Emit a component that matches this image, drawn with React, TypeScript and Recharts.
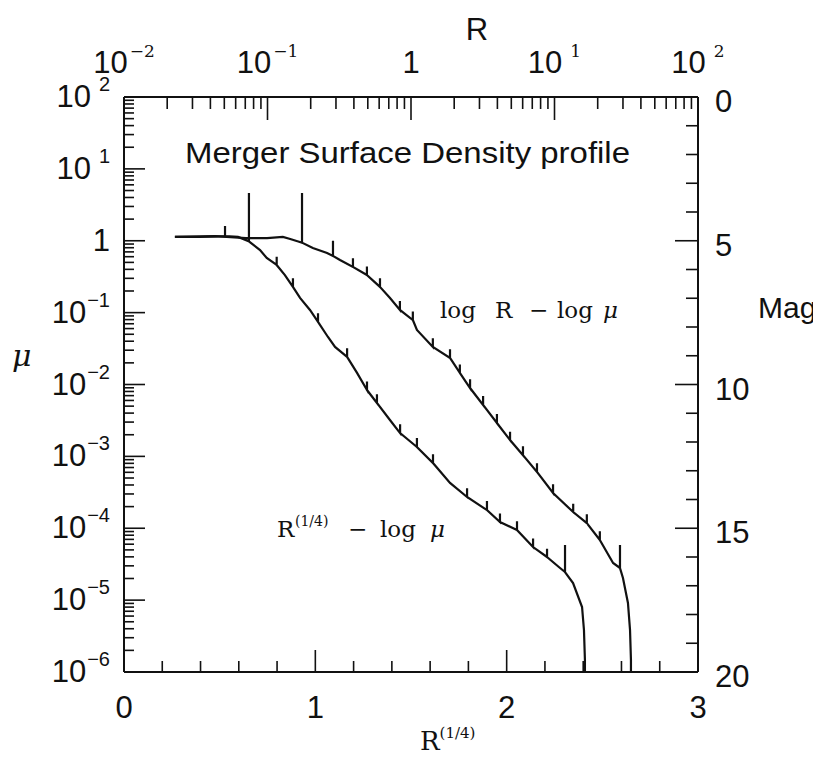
import React from 'react';
import { LineChart, Line, XAxis, YAxis } from 'recharts';

// R^(1/4) - log mu profile (bottom axis, left axis)
const innerR14 = [
  0.267, 0.397, 0.528, 0.528, 0.528, 0.596, 0.638, 0.653, 0.653, 0.653,
  0.711, 0.746, 0.798, 0.798, 0.798, 0.841, 0.883, 0.883, 0.883, 0.920,
  0.972, 1.014, 1.014, 1.014, 1.066, 1.103, 1.166, 1.166, 1.166, 1.218,
  1.270, 1.270, 1.270, 1.322, 1.322, 1.322, 1.390, 1.443, 1.443, 1.443,
  1.531, 1.531, 1.531, 1.615, 1.615, 1.615, 1.704, 1.793, 1.793, 1.793,
  1.897, 1.897, 1.897, 1.965, 1.965, 1.965, 2.054, 2.054, 2.054, 2.138,
  2.138, 2.138, 2.211, 2.211, 2.211, 2.279, 2.305, 2.305, 2.305, 2.347,
  2.394, 2.404, 2.409, 2.409,
];
const innerMu = [
  1.13, 1.13, 1.16, 1.60, 1.16, 1.13, 1.02, 0.98, 4.61, 0.98,
  0.743, 0.575, 0.46, 0.60, 0.46, 0.333, 0.228, 0.30, 0.228, 0.16,
  0.109, 0.0741, 0.098, 0.0741, 0.0458, 0.0333, 0.0242, 0.032, 0.0242, 0.0145,
  0.00838, 0.011, 0.00838, 0.00553, 0.0073, 0.00553, 0.00321, 0.00211, 0.0028, 0.00211,
  0.00135, 0.0018, 0.00135, 8.09e-4, 1.07e-3, 8.09e-4, 4.27e-4, 2.72e-4, 3.6e-4, 2.72e-4,
  1.79e-4, 2.4e-4, 1.79e-4, 1.22e-4, 1.6e-4, 1.22e-4, 9.46e-5, 1.25e-4, 9.46e-5, 5.48e-5,
  7.2e-5, 5.48e-5, 3.98e-5, 5.2e-5, 3.98e-5, 2.8e-5, 2.46e-5, 5.85e-5, 2.46e-5, 1.73e-5,
  8.02e-6, 3.84e-6, 1.47e-6, 1e-6,
];

// log R - log mu profile (top axis, left axis)
const outerR = [
  0.0226, 0.0431, 0.0708, 0.0993, 0.128, 0.144, 0.168, 0.174, 0.174, 0.174,
  0.207, 0.26, 0.286, 0.286, 0.286, 0.32, 0.394, 0.394, 0.394, 0.493,
  0.493, 0.493, 0.608, 0.608, 0.608, 0.714, 0.837, 0.837, 0.837, 1.03,
  1.03, 1.03, 1.1, 1.42, 1.42, 1.42, 1.87, 1.87, 1.87, 2.19,
  2.19, 2.19, 2.58, 2.58, 2.58, 3.18, 3.18, 3.18, 3.97, 3.97,
  3.97, 4.9, 4.9, 4.9, 6.03, 6.03, 6.03, 7.55, 7.55, 7.55,
  9.77, 9.77, 9.77, 13.5, 13.5, 13.5, 16.8, 16.8, 16.8, 20.7,
  20.7, 20.7, 25.6, 28.6, 28.6, 28.6, 30.0, 32.5, 33.6, 34.1,
  34.1,
];
const outerMu = [
  1.13, 1.16, 1.09, 1.09, 1.13, 1.06, 0.962, 0.94, 4.61, 0.94,
  0.79, 0.676, 0.614, 1.0, 0.614, 0.54, 0.432, 0.57, 0.432, 0.333,
  0.44, 0.333, 0.228, 0.30, 0.228, 0.16, 0.109, 0.145, 0.109, 0.0789,
  0.104, 0.0789, 0.0573, 0.0333, 0.044, 0.0333, 0.0234, 0.031, 0.0234, 0.0145,
  0.019, 0.0145, 0.00893, 0.0118, 0.00893, 0.00519, 0.0069, 0.00519, 0.00291, 0.0039,
  0.00291, 0.00169, 0.0022, 0.00169, 0.00104, 0.00138, 0.00104, 6.07e-4, 8.0e-4, 6.07e-4,
  3.09e-4, 4.1e-4, 3.09e-4, 1.68e-4, 2.2e-4, 1.68e-4, 1.18e-4, 1.56e-4, 1.18e-4, 6.87e-5,
  9.1e-5, 6.87e-5, 3.29e-5, 2.8e-5, 5.85e-5, 2.8e-5, 2.03e-5, 9.12e-6, 3.84e-6, 1.47e-6,
  1e-6,
];

const bottomTicks = [0, 0.2, 0.4, 0.6, 0.8, 1, 1.2, 1.4, 1.6, 1.8, 2, 2.2, 2.4, 2.6, 2.8, 3];
const magTicks = [0, 1, 2, 3, 4, 5, 6, 7, 8, 9, 10, 11, 12, 13, 14, 15, 16, 17, 18, 19, 20];
const topDecades = [-2, -1, 0, 1, 2];
const muDecades = [-6, -5, -4, -3, -2, -1, 0, 1, 2];

const logTicks = (decades: number[]) => {
  const out: number[] = [];
  decades.forEach((d, i) => {
    const base = Math.pow(10, d);
    if (i === decades.length - 1) { out.push(base); return; }
    for (let m = 1; m < 10; m++) out.push(m * base);
  });
  return out;
};
const topTicks = logTicks(topDecades);
const muTicks = logTicks(muDecades);

const innerData = innerR14.map((r, i) => ({ r, mu: innerMu[i] }));
const outerData = outerR.map((R, i) => ({ R, mu: outerMu[i] }));

const W = 813;
const H = 749;
const PL = 116, PT = 89, PR = 690, PB = 664;
const SANS = '"Liberation Sans", Arial, Helvetica, sans-serif';
const SERIF = '"DejaVu Serif", "Liberation Serif", serif';
const INK = '#111';

const decadeOf = (v: number) => {
  const k = Math.log10(v);
  const rk = Math.round(k);
  return { k: rk, major: Math.abs(k - rk) < 1e-6 };
};

const BottomTick = (props: any) => {
  const { x, payload } = props;
  const v = payload.value;
  const major = Math.abs(v - Math.round(v)) < 1e-6;
  return (
    <g>
      <line x1={x} x2={x} y1={PB} y2={PB - (major ? 22 : 11)} stroke={INK} strokeWidth={1.6} />
      {major && (
        <text x={x} y={PB + 46} textAnchor="middle" fontFamily={SANS} fontSize={31} fill={INK}>
          {Math.round(v)}
        </text>
      )}
    </g>
  );
};

const TopTick = (props: any) => {
  const { x, payload } = props;
  const { k, major } = decadeOf(payload.value);
  return (
    <g>
      <line x1={x} x2={x} y1={PT} y2={PT + (major ? 23 : 12)} stroke={INK} strokeWidth={1.6} />
      {major && (
        <text x={x} y={PT - 24} textAnchor="middle" fontFamily={SANS} fontSize={31} fill={INK}>
          {k === 0 ? '1' : '10'}
          {k !== 0 && (
            <tspan dy={-16} dx={k > 0 ? 8 : 2} fontFamily={SERIF} fontSize={17}>
              {k < 0 ? `\u2212${-k}` : `${k}`}
            </tspan>
          )}
        </text>
      )}
    </g>
  );
};

const LeftTick = (props: any) => {
  const { y, payload } = props;
  const { k, major } = decadeOf(payload.value);
  return (
    <g>
      <line x1={PL} x2={PL + (major ? 21 : 10)} y1={y} y2={y} stroke={INK} strokeWidth={1.6} />
      {major && (
        <text x={PL - 14} y={y + 10} textAnchor="end" fontFamily={SANS} fontSize={31} fill={INK}>
          {k === 0 ? '1' : '10'}
          {k !== 0 && (
            <tspan dy={-16} dx={k > 0 ? 8 : 1} fontSize={20}>
              {k < 0 ? `\u2212${-k}` : `${k}`}
            </tspan>
          )}
        </text>
      )}
    </g>
  );
};

const RightTick = (props: any) => {
  const { y, payload } = props;
  const v = payload.value;
  const major = v % 5 === 0;
  return (
    <g>
      <line x1={PR} x2={PR - (major ? 23 : 12)} y1={y} y2={y} stroke={INK} strokeWidth={1.6} />
      {major && (
        <text x={PR + 17} y={y + 15} textAnchor="start" fontFamily={SANS} fontSize={31} fill={INK}>
          {v}
        </text>
      )}
    </g>
  );
};

const axisLine = { stroke: INK, strokeWidth: 2 };

export default function App() {
  return (
    <div style={{ position: 'relative', width: W, height: H, background: '#fff' }}>
      <LineChart
        width={W}
        height={H}
        margin={{ top: PT - 40, right: W - PR - 60, bottom: H - PB - 40, left: PL - 60 }}
      >
        <XAxis
          xAxisId="bottom"
          dataKey="r"
          type="number"
          domain={[0, 3]}
          ticks={bottomTicks}
          interval={0}
          height={40}
          tickLine={false}
          tickSize={0}
          axisLine={axisLine}
          tick={<BottomTick />}
          allowDataOverflow
        />
        <XAxis
          xAxisId="top"
          orientation="top"
          dataKey="R"
          type="number"
          scale="log"
          domain={[0.01, 100]}
          ticks={topTicks}
          interval={0}
          height={40}
          tickLine={false}
          tickSize={0}
          axisLine={axisLine}
          tick={<TopTick />}
          allowDataOverflow
        />
        <YAxis
          yAxisId="mu"
          type="number"
          scale="log"
          domain={[1e-6, 100]}
          ticks={muTicks}
          interval={0}
          width={60}
          tickLine={false}
          tickSize={0}
          axisLine={axisLine}
          tick={<LeftTick />}
          allowDataOverflow
        />
        <YAxis
          yAxisId="mag"
          orientation="right"
          type="number"
          domain={[0, 20]}
          reversed
          ticks={magTicks}
          interval={0}
          width={60}
          tickLine={false}
          tickSize={0}
          axisLine={axisLine}
          tick={<RightTick />}
          allowDataOverflow
        />
        <Line
          data={innerData}
          xAxisId="bottom"
          yAxisId="mu"
          dataKey="mu"
          type="linear"
          stroke={INK}
          strokeWidth={2.2}
          dot={false}
          isAnimationActive={false}
        />
        <Line
          data={outerData}
          xAxisId="top"
          yAxisId="mu"
          dataKey="mu"
          type="linear"
          stroke={INK}
          strokeWidth={2.2}
          dot={false}
          isAnimationActive={false}
        />
      </LineChart>
      <svg
        width={W}
        height={H}
        style={{ position: 'absolute', left: 0, top: 0, pointerEvents: 'none' }}
      >
        <text x={469} y={32} textAnchor="middle" fontFamily={SANS} fontSize={31} fill={INK}>R</text>
        <text
          x={177}
          y={155}
          fontFamily={SANS}
          fontSize={29}
          fill={INK}
          textLength={445}
          lengthAdjust="spacingAndGlyphs"
        >
          Merger Surface Density profile
        </text>
        <text y={310} fontFamily={SERIF} fontSize={23} fill={INK}>
          <tspan x={432}>log</tspan>
          <tspan x={487}>R</tspan>
          <tspan x={521}>{'\u2212'}</tspan>
          <tspan x={549}>log</tspan>
          <tspan x={595} fontStyle="italic">μ</tspan>
        </text>
        <text y={529} fontFamily={SERIF} fontSize={23} fill={INK}>
          <tspan x={269}>R</tspan>
          <tspan x={287} dy={-11} fontSize={14}>(1/4)</tspan>
          <tspan x={340} dy={11}>{'\u2212'}</tspan>
          <tspan x={372}>log</tspan>
          <tspan x={422} fontStyle="italic">μ</tspan>
        </text>
        <text x={4} y={358} fontFamily={SERIF} fontStyle="italic" fontSize={30} fill={INK}>μ</text>
        <text x={750} y={310} fontFamily={SANS} fontSize={30} fill={INK}>Mag</text>
        <text y={742} fontFamily={SERIF} fontSize={26} fill={INK}>
          <tspan x={412}>R</tspan>
          <tspan dy={-12} fontSize={15}>(1/4)</tspan>
        </text>
      </svg>
    </div>
  );
}
